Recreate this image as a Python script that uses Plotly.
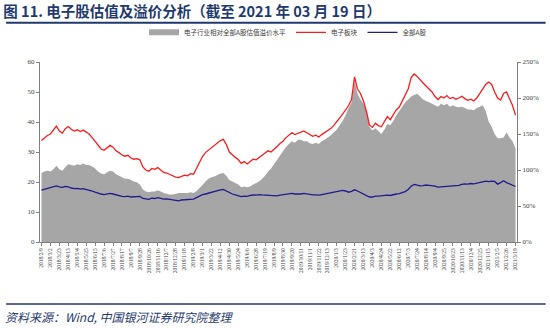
import plotly.graph_objects as go

# Tick labels for the weekly date axis (one label every third week)
date_labels = [
    "2018/2/9", "2018/3/2", "2018/3/23", "2018/4/13", "2018/5/4", "2018/5/25",
    "2018/6/15", "2018/7/6", "2018/7/27", "2018/8/17", "2018/9/7", "2018/9/28",
    "2018/10/26", "2018/11/16", "2018/12/7", "2018/12/28", "2019/1/18", "2019/2/8",
    "2019/3/1", "2019/3/22", "2019/4/12", "2019/4/30", "2019/5/24", "2019/6/6",
    "2019/6/28", "2019/7/19", "2019/8/9", "2019/8/30", "2019/9/20", "2019/10/11",
    "2019/11/1", "2019/11/22", "2019/12/13", "2020/1/3", "2020/1/23", "2020/2/21",
    "2020/3/13", "2020/4/3", "2020/4/24", "2020/5/22", "2020/6/12", "2020/7/3",
    "2020/7/24", "2020/8/14", "2020/9/4", "2020/9/25", "2020/10/23", "2020/11/13",
    "2020/12/4", "2020/12/25", "2021/1/15", "2021/2/5", "2021/2/26", "2021/3/19",
]

# Right-axis tick values and their percent labels
premium_ticks = [0, 50, 100, 150, 200, 250]
premium_tick_text = ["0%", "50%", "100%", "150%", "200%", "250%"]

# 电子板块 PE (left axis), weekly
electronics_pe = [
    33.8, 34.8, 35.5, 36.0, 37.2, 38.6, 37.0, 36.3, 37.8, 38.5, 37.6, 37.0,
    37.4, 36.8, 37.3, 36.5, 36.0, 34.8, 33.5, 32.0, 31.0, 30.6, 31.5, 32.2,
    31.6, 30.4, 29.8, 29.0, 28.6, 28.9, 28.0, 27.6, 27.8, 27.4, 25.0, 24.0,
    23.6, 24.5, 24.2, 24.8, 24.0, 23.2, 23.0, 22.6, 22.0, 21.6, 21.5, 22.0,
    22.3, 22.1, 22.8, 22.6, 24.5, 26.5, 28.5, 29.8, 30.6, 31.2, 32.0, 32.8,
    33.8, 34.2, 32.5, 30.0, 29.0, 28.2, 27.5, 26.2, 26.8, 26.0, 26.8, 27.6,
    27.4, 28.2, 29.0, 29.6, 30.4, 30.0, 30.8, 31.8, 32.8, 33.6, 34.8, 35.6,
    36.4, 35.8, 36.2, 36.6, 37.0, 36.4, 35.8, 35.2, 35.6, 35.0, 35.8, 36.4,
    37.0, 37.8, 38.8, 40.0, 41.5, 42.6, 44.0, 45.5, 47.5, 55.0, 51.0, 49.5,
    47.0, 43.5, 39.0, 38.2, 39.6, 38.8, 38.4, 40.0, 41.8, 40.8, 42.5, 44.0,
    45.0, 47.0, 48.5, 51.0, 54.8, 56.0, 55.2, 54.0, 53.0, 52.0, 51.0, 50.0,
    48.5, 47.5, 48.5, 48.0, 48.8, 47.8, 48.2, 47.6, 48.0, 48.6, 47.8, 47.2,
    47.6, 47.0, 48.0, 49.5, 51.0, 52.5, 53.3, 52.5, 50.0, 48.0, 47.3, 49.5,
    50.0, 47.5, 45.5, 42.3,
]

# 全部A股 PE (left axis), weekly
all_a_pe = [
    17.3, 17.6, 17.9, 18.2, 18.5, 18.7, 18.4, 18.2, 18.5, 18.4, 18.0, 17.8,
    17.9, 17.6, 17.8, 17.6, 17.4, 17.0, 16.6, 16.2, 16.0, 15.8, 16.0, 16.2,
    16.0, 15.7, 15.5, 15.2, 15.1, 15.3, 15.0, 15.0, 15.2, 15.2, 14.5, 14.3,
    14.2, 14.6, 14.5, 14.8, 14.6, 14.3, 14.4, 14.2, 14.0, 13.8, 13.7, 14.0,
    14.1, 14.0, 14.3, 14.3, 14.8, 15.3, 15.8, 16.0, 16.3, 16.5, 16.8, 17.0,
    17.4, 17.5, 17.0, 16.3, 16.0, 15.7, 15.5, 15.1, 15.3, 15.2, 15.5, 15.7,
    15.6, 15.8, 15.7, 15.6, 15.6, 15.4, 15.3, 15.4, 15.6, 15.7, 15.9, 16.1,
    16.2, 16.0, 15.9, 16.0, 16.2, 16.0, 15.9, 15.7, 15.7, 15.6, 15.8, 16.0,
    16.1, 16.3, 16.6, 16.9, 17.1, 17.2, 17.0, 16.6, 16.9, 17.4, 17.0, 16.5,
    16.0, 15.4, 15.0, 15.0, 15.3, 15.3, 15.4, 15.6, 15.6, 15.5, 15.8, 16.0,
    16.1, 16.4, 16.8, 17.5, 18.6, 19.2, 19.0, 18.7, 18.8, 19.0, 18.9, 18.8,
    18.6, 18.3, 18.4, 18.5, 18.6, 18.5, 18.8, 18.7, 18.9, 19.2, 19.4, 19.3,
    19.5, 19.4, 19.6, 19.8, 20.0, 20.3, 20.1, 20.3, 20.2, 19.3, 19.8, 20.4,
    19.8, 19.4, 19.0, 18.5,
]

# 电子行业相对全部A股估值溢价水平 (right axis, %), weekly
premium_pct = [
    96, 98, 99, 98, 101, 106, 101, 99, 104, 108, 107, 106,
    108, 107, 109, 107, 107, 105, 102, 98, 95, 94, 97, 99,
    98, 94, 92, 90, 88, 88, 86, 84, 83, 80, 73, 70,
    69, 70, 70, 72, 70, 68, 67, 66, 66, 67, 68, 68,
    68, 68, 69, 68, 71, 75, 79, 84, 88, 90, 91, 93,
    95, 96, 92, 86, 84, 82, 80, 76, 77, 76, 77, 80,
    82, 84, 88, 92, 98, 102, 108, 114, 120, 126, 132, 136,
    140, 138, 142, 142, 140, 140, 137, 136, 138, 136, 140, 142,
    145, 148, 152, 156, 162, 168, 176, 186, 194, 224, 206, 198,
    192, 182, 160, 155, 158, 154, 150, 156, 164, 162, 168, 176,
    182, 188, 194, 198, 202, 204, 206, 202, 198, 196, 194, 192,
    190, 188, 192, 190, 192, 188, 190, 188, 187, 188, 186, 184,
    184, 183, 186, 188, 190, 182, 167, 160, 150, 144, 144, 145,
    152, 145, 140, 130,
]

week_idx = list(range(len(electronics_pe)))
tick_idx = week_idx[::3]

SERIF = "Liberation Serif, Times New Roman, serif"
CJK = "Noto Sans CJK SC, sans-serif"
NAVY_TEXT = "#1f3a6e"

fig = go.Figure()

# Premium area sits on the base axis (right side) so the lines draw on top
fig.add_trace(go.Scatter(
    x=week_idx, y=premium_pct, name="电子行业相对全部A股估值溢价水平",
    mode="none", fill="tozeroy", fillcolor="#a6a6a6", yaxis="y",
))
fig.add_trace(go.Scatter(
    x=week_idx, y=electronics_pe, name="电子板块",
    mode="lines", line=dict(color="#ff1a1a", width=1.3), yaxis="y2",
))
fig.add_trace(go.Scatter(
    x=week_idx, y=all_a_pe, name="全部A股",
    mode="lines", line=dict(color="#1c1c8c", width=1.3), yaxis="y2",
))

axis_font = dict(family=SERIF, size=7, color="#404040")

fig.update_layout(
    width=550, height=328,
    margin=dict(l=40, r=33, t=62, b=86),
    paper_bgcolor="white", plot_bgcolor="white",
    showlegend=True,
    legend=dict(
        orientation="h", x=0.52, xanchor="center", y=1.165, yanchor="middle",
        font=dict(family=CJK, size=6.5, color="#404040"),
        itemwidth=30, tracegroupgap=0, bgcolor="rgba(0,0,0,0)",
    ),
    xaxis=dict(
        range=[-0.5, len(week_idx) - 0.5],
        tickmode="array", tickvals=tick_idx, ticktext=date_labels,
        tickangle=-90, tickfont=dict(family=SERIF, size=5.5, color="#404040"),
        ticks="outside", ticklen=3, tickcolor="#808080",
        showline=True, linecolor="#808080", linewidth=1,
        showgrid=False, zeroline=False,
    ),
    yaxis=dict(
        side="right", range=[0, 250],
        tickmode="array", tickvals=premium_ticks, ticktext=premium_tick_text,
        tickfont=axis_font,
        ticks="outside", ticklen=3, tickcolor="#808080",
        showline=True, linecolor="#808080", linewidth=1,
        showgrid=False, zeroline=False,
    ),
    yaxis2=dict(
        overlaying="y", side="left", range=[0, 60],
        tickvals=[0, 10, 20, 30, 40, 50, 60], tickfont=axis_font,
        ticks="outside", ticklen=3, tickcolor="#808080",
        showline=True, linecolor="#808080", linewidth=1,
        showgrid=False, zeroline=False,
    ),
    title=dict(
        text="图 11. 电子股估值及溢价分析（截至 2021 年 03 月 19 日）",
        x=0.006, xref="container", xanchor="left",
        y=0.964, yref="container", yanchor="middle",
        font=dict(family=CJK, size=14.5, color=NAVY_TEXT, weight="bold"),
    ),
    shapes=[
        dict(type="line", xref="paper", yref="paper",
             x0=-0.071, x1=1.06, y0=1.218, y1=1.218,
             line=dict(color=NAVY_TEXT, width=2)),
        dict(type="line", xref="paper", yref="paper",
             x0=-0.071, x1=1.06, y0=-0.345, y1=-0.345,
             line=dict(color=NAVY_TEXT, width=1.5)),
    ],
    annotations=[
        dict(text="<i>资料来源：Wind, 中国银河证券研究院整理</i>",
             xref="paper", yref="paper", x=-0.078, y=-0.415,
             xanchor="left", yanchor="middle", showarrow=False,
             font=dict(family=CJK, size=12, color=NAVY_TEXT)),
    ],
)

fig.write_html("out.html")
